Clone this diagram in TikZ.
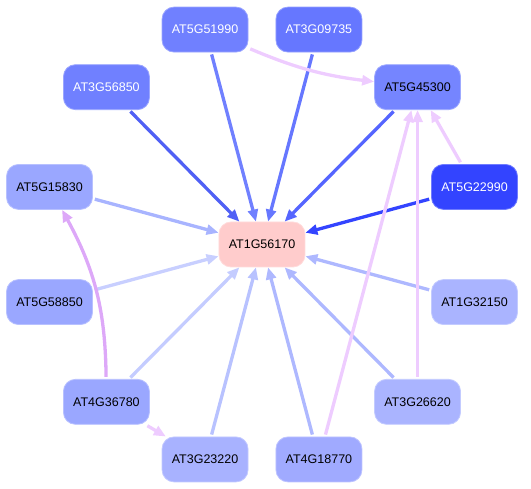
\documentclass[tikz,border=0pt]{standalone}
\usepackage{fontspec}
\setmainfont{Liberation Sans}
\usepackage{tikz}
\usetikzlibrary{arrows.meta}
\definecolor{hub}{HTML}{FFCCCC}
\definecolor{bA}{HTML}{7080FF}
\definecolor{bB}{HTML}{6677FF}
\definecolor{bC}{HTML}{7585FF}
\definecolor{bD}{HTML}{3344FF}
\definecolor{bE}{HTML}{9AA7FF}
\definecolor{bF}{HTML}{AAB4FF}
\definecolor{bG}{HTML}{A8B2FF}
\definecolor{bH}{HTML}{A0AAFF}
\definecolor{eA}{HTML}{5060F5}
\definecolor{eB}{HTML}{5565FF}
\definecolor{eC}{HTML}{A8B4FF}
\definecolor{eD}{HTML}{C8CFFF}
\definecolor{eE}{HTML}{C4CCFF}
\definecolor{eF}{HTML}{B8C2FF}
\definecolor{eG}{HTML}{AEB8FF}
\definecolor{lila}{HTML}{EECCFF}
\definecolor{lilaD}{HTML}{DDA8F8}
\tikzset{Gene/.style={rounded corners=12pt, minimum width=86pt, minimum height=45pt, inner sep=0pt,
                      line width=0.8pt, fill=#1, draw=#1!70!white, font=\fontsize{12.5}{15}\selectfont},
         Link/.style={draw=#1, line width=3.3pt, shorten <=2pt, -{Triangle[length=12pt, width=10pt]}}}

\begin{document}
\begin{tikzpicture}[x=1pt, y=1pt]
    \useasboundingbox (-262,-244.5) rectangle (269,244.5);
    \node[Gene=hub] (G0) at (0,0) {AT1G56170};
    \node[Gene=bA, text=white] (G1) at (105:220pt and 222.5pt) {AT5G51990};
    \node[Gene=bB, text=white] (G2) at (75:220pt and 222.5pt) {AT3G09735};
    \node[Gene=bA, text=white] (G3) at (135:220pt and 222.5pt) {AT3G56850};
    \node[Gene=bC] (G4) at (45:220pt and 222.5pt) {AT5G45300};
    \node[Gene=bE] (G5) at (165:220pt and 222.5pt) {AT5G15830};
    \node[Gene=bD, text=white] (G6) at (15:220pt and 222.5pt) {AT5G22990};
    \node[Gene=bE] (G7) at (195:220pt and 222.5pt) {AT5G58850};
    \node[Gene=bF] (G8) at (345:220pt and 222.5pt) {AT1G32150};
    \node[Gene=bE] (G9) at (225:220pt and 222.5pt) {AT4G36780};
    \node[Gene=bF] (G10) at (315:220pt and 222.5pt) {AT3G26620};
    \node[Gene=bG] (G11) at (255:220pt and 222.5pt) {AT3G23220};
    \node[Gene=bH] (G12) at (285:220pt and 222.5pt) {AT4G18770};
  \path
    (G3) edge[Link=eA] (G0)
    (G1) edge[Link=bA] (G0)
    (G2) edge[Link=bB] (G0)
    (G4) edge[Link=eB] (G0)
    (G6) edge[Link=bD] (G0)
    (G5) edge[Link=eC] (G0)
    (G7) edge[Link=eD] (G0)
    (G9) edge[Link=eE] (G0)
    (G11) edge[Link=eF] (G0)
    (G12) edge[Link=eG] (G0)
    (G10) edge[Link=eG] (G0)
    (G8) edge[Link=eG] (G0)
    (G1) edge[Link=lila, bend right=8] (G4)
    (G6) edge[Link=lila] (G4)
    (G12) edge[Link=lila] (G4)
    (G10) edge[Link=lila] (G4)
    (G9) edge[Link=lilaD, bend right=14] (G5)
    (G9) edge[Link=lila] (G11);
\end{tikzpicture}
\end{document}
